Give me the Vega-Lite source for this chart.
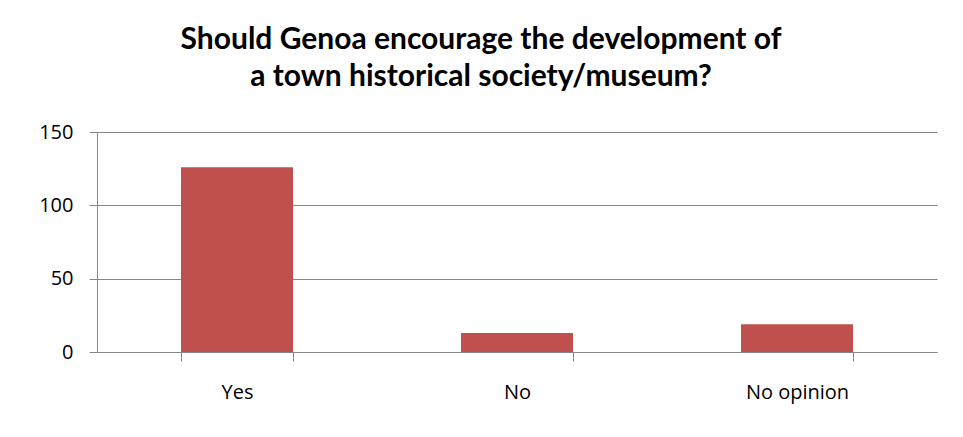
{
  "$schema": "https://vega.github.io/schema/vega-lite/v6.json",
  "autosize": {"type": "none"},
  "width": 840,
  "height": 220,
  "padding": {"left": 97, "top": 132, "right": 26, "bottom": 85},
  "background": "white",
  "title": {
    "text": ["Should Genoa encourage the development of", "a town historical society/museum?"],
    "font": "Lato",
    "fontSize": 30,
    "fontWeight": "bold",
    "color": "#000000",
    "anchor": "middle",
    "dx": -36,
    "offset": 30,
    "lineHeight": 37
  },
  "data": {
    "values": [
      {"answer": "Yes", "count": 126},
      {"answer": "No", "count": 13},
      {"answer": "No opinion", "count": 19}
    ]
  },
  "mark": {"type": "bar", "color": "#C0504D"},
  "encoding": {
    "x": {
      "field": "answer",
      "type": "nominal",
      "sort": null,
      "scale": {"paddingInner": 0.6, "paddingOuter": 0.3},
      "axis": {
        "title": null,
        "labelAngle": 0,
        "labelFont": "Open Sans",
        "labelFontSize": 20,
        "labelColor": "#000000",
        "labelPadding": 21,
        "tickBand": "extent",
        "tickSize": 9,
        "tickColor": "#868686",
        "domainColor": "#868686",
        "grid": false
      }
    },
    "y": {
      "field": "count",
      "type": "quantitative",
      "scale": {"domain": [0, 150]},
      "axis": {
        "title": null,
        "values": [0, 50, 100, 150],
        "labelFont": "Open Sans",
        "labelFontSize": 20,
        "labelColor": "#000000",
        "labelPadding": 16,
        "tickSize": 8,
        "tickColor": "#868686",
        "domainColor": "#868686",
        "gridColor": "#868686",
        "grid": true
      }
    }
  },
  "config": {"view": {"stroke": null}}
}
